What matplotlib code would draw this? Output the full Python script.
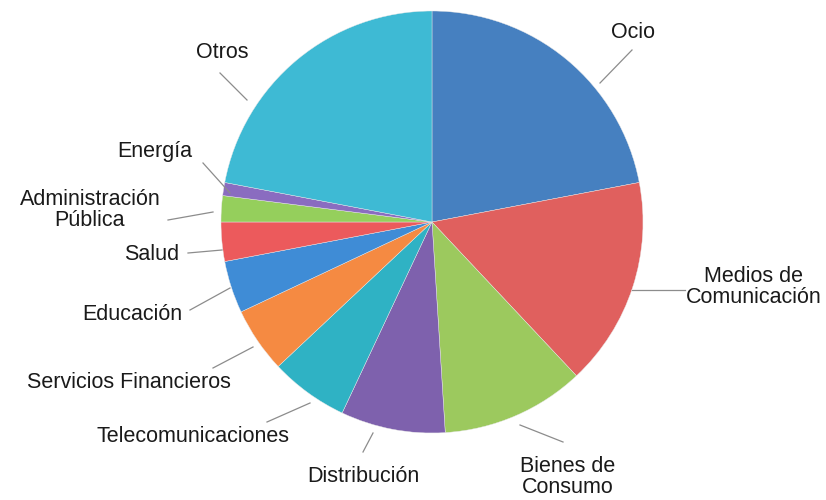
import matplotlib
matplotlib.use('Agg')
import matplotlib.pyplot as plt

plt.rcParams['font.family'] = ['Liberation Sans', 'DejaVu Sans']

sectores = ['Ocio', 'Medios de\nComunicación', 'Bienes de\nConsumo', 'Distribución',
            'Telecomunicaciones', 'Servicios Financieros', 'Educación', 'Salud',
            'Administración\nPública', 'Energía', 'Otros']
porcentajes = [22, 16, 11, 8, 6, 5, 4, 3, 2, 1, 22]
colores = ['#4680c0', '#e0605e', '#9cc95e', '#7e61ad', '#2fb2c4', '#f58a42',
           '#3f8cd6', '#ec5a5c', '#95cf5c', '#8a6cc0', '#3ebad4']

# label layout in pixels: text centre, leader start (pie edge), leader end
txt_pos = [(633, 33), (754, 287), (568, 477), (363, 477), (193, 437), (129, 382),
           (132, 315), (152, 255), (90, 210), (155, 152), (222, 52)]
lead_a = [(600, 83), (632, 290), (520, 425), (373, 433), (310, 403), (253, 347),
          (230, 288), (222, 250), (213, 212), (230, 193), (247, 100)]
lead_b = [(632, 50), (685, 290), (563, 442), (363, 452), (267, 422), (213, 368),
          (190, 310), (188, 253), (168, 220), (203, 163), (220, 73)]

H = 500
cx, cy, R = 432, 222, 211

fig = plt.figure(figsize=(8.26, 5), dpi=100)
ax = fig.add_axes([0, 0, 1, 1])

ax.pie(porcentajes, colors=colores, startangle=90, counterclock=False,
       center=(cx, H - cy), radius=R,
       wedgeprops=dict(linewidth=0.3, edgecolor='#e8e8e8'))

for lab, (tx, ty), (ax0, ay0), (ax1, ay1) in zip(sectores, txt_pos, lead_a, lead_b):
    ax.plot([ax0, ax1], [H - ay0, H - ay1], color='#8c8c8c', lw=0.9)
    ax.text(tx, H - ty, lab, ha='center', va='center', fontsize=15.5,
            color='#1a1a1a', linespacing=1.0)

ax.set_xlim(0, 826)
ax.set_ylim(0, H)
ax.set_aspect('equal')
ax.axis('off')

plt.savefig('out.png', dpi=100)
